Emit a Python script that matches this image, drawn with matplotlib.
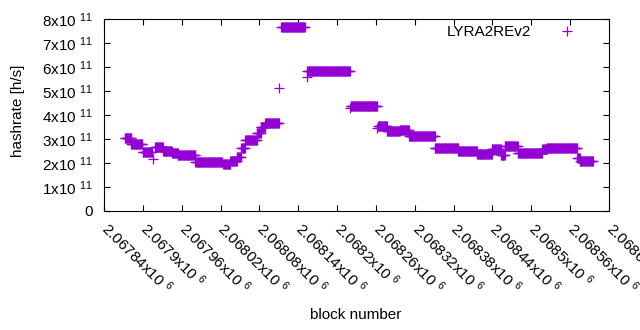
import numpy as np
import matplotlib
matplotlib.use('Agg')
import matplotlib.pyplot as plt
import matplotlib.transforms as mtransforms
from matplotlib.ticker import FuncFormatter

# ── Data: hashrate steps (first block, last block, hashrate in 1e11 h/s) ──────
seg_start = [2067872, 2067882, 2067900, 2067915, 2067919, 2067931, 2067945,
             2067954, 2067981, 2068024, 2068035, 2068045, 2068052, 2068058,
             2068076, 2068082, 2068089, 2068111, 2068114, 2068153, 2068154,
             2068220, 2068221, 2068262, 2068263, 2068277, 2068297, 2068311,
             2068351, 2068387, 2068416, 2068439, 2068453, 2068459, 2068479,
             2068517, 2068524, 2068571, 2068575]
seg_end = [2067882, 2067899, 2067914, 2067915, 2067931, 2067945, 2067954,
           2067981, 2068022, 2068035, 2068045, 2068051, 2068058, 2068076,
           2068082, 2068089, 2068110, 2068111, 2068150, 2068153, 2068220,
           2068220, 2068262, 2068262, 2068277, 2068297, 2068311, 2068351,
           2068387, 2068416, 2068439, 2068453, 2068459, 2068479, 2068517,
           2068524, 2068571, 2068575, 2068595]
seg_rate = [3.03, 2.78, 2.44, 2.17, 2.65, 2.50, 2.41,
            2.33, 2.03, 1.95, 2.08, 2.26, 2.61, 2.94,
            3.26, 3.51, 3.68, 5.14, 7.68, 5.57, 5.82,
            4.30, 4.37, 3.46, 3.54, 3.35, 3.36, 3.11,
            2.63, 2.52, 2.37, 2.58, 2.33, 2.71, 2.40,
            2.57, 2.61, 2.21, 2.10]

x_ticks = np.arange(2067840, 2068621, 60)
y_ticks = np.arange(0, 8.01e11, 1e11)
series_name = 'LYRA2REv2'

# one point per block
blocks, rates = [], []
for s, e, r in zip(seg_start, seg_end, seg_rate):
    b = np.arange(s, e + 1)
    blocks.extend(b)
    rates.extend([r * 1e11] * len(b))

plt.rcParams['font.family'] = ['Liberation Sans', 'DejaVu Sans']
plt.rcParams['font.size'] = 11
plt.rcParams['mathtext.fontset'] = 'custom'
plt.rcParams['mathtext.rm'] = 'Liberation Sans'
plt.rcParams['mathtext.default'] = 'regular'

fig = plt.figure(figsize=(6.4, 3.3), dpi=100)
ax = fig.add_axes([104 / 640, 1 - 211 / 330, 505 / 640, 192 / 330])

ax.plot(blocks, rates, linestyle='none', marker='+', color='#9400D3',
        markersize=6.5, markeredgewidth=0.9, label=series_name)

ax.set_xlim(2067840, 2068620)
ax.set_ylim(0, 8e11)
ax.set_xticks(x_ticks)
ax.set_yticks(y_ticks)


def fmt_x(v, pos):
    return f'{v / 1e6:g}x10 $^{{6}}$'


def fmt_y(v, pos):
    if v == 0:
        return '0'
    return f'{v / 1e11:g}x10 $^{{11}}$'


ax.xaxis.set_major_formatter(FuncFormatter(fmt_x))
ax.yaxis.set_major_formatter(FuncFormatter(fmt_y))
ax.tick_params(direction='in', length=4, width=0.8, top=True, right=True,
               colors='black')
ax.tick_params(axis='y', pad=8)
ax.tick_params(axis='x', pad=5)
# gnuplot-style rotated labels: glyphs start at the tick and run down-right
shift = mtransforms.ScaledTranslation(7 / 100, -1 / 100, fig.dpi_scale_trans)
for lbl in ax.get_xticklabels():
    lbl.set_rotation(-45)
    lbl.set_ha('left')
    lbl.set_va('top')
    lbl.set_rotation_mode('anchor')
    lbl.set_transform(lbl.get_transform() + shift)
for sp in ax.spines.values():
    sp.set_linewidth(0.8)

fig.text(18 / 640, 1 - 111 / 330, 'hashrate [h/s]', rotation=90,
         ha='center', va='center')
fig.text(356 / 640, 1 - 315 / 330, 'block number', ha='center', va='center')

ax.legend(loc='upper right', bbox_to_anchor=(0.966, 1.0), markerfirst=False,
          frameon=False, handlelength=2.5, handletextpad=1.05, borderaxespad=0,
          fontsize=11)

fig.savefig('out.png', dpi=100)
